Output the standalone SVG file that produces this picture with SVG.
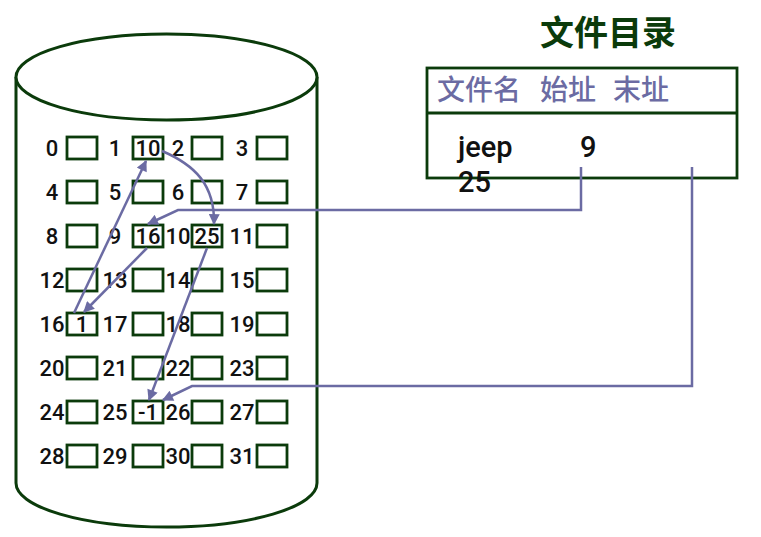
<svg xmlns="http://www.w3.org/2000/svg" width="761" height="537" viewBox="0 0 761 537">
<defs>
<style>
.outline{fill:#fff;stroke:#0b3b0b;stroke-width:3}
.box{fill:#fff;stroke:#0b3b0b;stroke-width:2.8}
.lbl{font-family:Roboto,"Liberation Sans",sans-serif;font-size:22px;font-weight:500;fill:#111;text-anchor:middle}
.val{font-family:Roboto,"Liberation Sans",sans-serif;font-size:22px;font-weight:500;fill:#111;text-anchor:middle}
.conn{fill:none;stroke:#6b6ba3;stroke-width:2.5}
.title{font-family:"Noto Sans CJK SC","Noto Sans",sans-serif;font-size:34px;font-weight:bold;fill:#0b3b0b}
.hdr{font-family:"Noto Sans CJK SC","Noto Sans",sans-serif;font-size:28px;font-weight:500;fill:#6b6ba3}
.rec{font-family:Roboto,"Liberation Sans",sans-serif;font-size:29px;font-weight:500;fill:#111}
</style>
<marker id="ah" viewBox="0 0 10 10" refX="9" refY="5" markerWidth="12" markerHeight="11" markerUnits="userSpaceOnUse" orient="auto">
<path d="M0,0 L10,5 L0,10 z" fill="#6b6ba3"/>
</marker>
</defs>
<g id="disk">
<path class="outline" d="M16,77 L16,483 A150.5,44 0 0 0 317,483 L317,77"/>
<ellipse class="outline" cx="166.5" cy="77" rx="150.5" ry="43"/>
</g>
<g id="cells">
<g id="c0"><text class="lbl" x="52" y="156">0</text><rect class="box" x="67" y="137" width="30" height="22"/></g>
<g id="c1"><text class="lbl" x="115" y="156">1</text><rect class="box" x="133" y="137" width="30" height="22"/><text class="val" x="148" y="156">10</text></g>
<g id="c2"><text class="lbl" x="178" y="156">2</text><rect class="box" x="192" y="137" width="30" height="22"/></g>
<g id="c3"><text class="lbl" x="242" y="156">3</text><rect class="box" x="257" y="137" width="30" height="22"/></g>
<g id="c4"><text class="lbl" x="52" y="200">4</text><rect class="box" x="67" y="181" width="30" height="22"/></g>
<g id="c5"><text class="lbl" x="115" y="200">5</text><rect class="box" x="133" y="181" width="30" height="22"/></g>
<g id="c6"><text class="lbl" x="178" y="200">6</text><rect class="box" x="192" y="181" width="30" height="22"/></g>
<g id="c7"><text class="lbl" x="242" y="200">7</text><rect class="box" x="257" y="181" width="30" height="22"/></g>
<g id="c8"><text class="lbl" x="52" y="244">8</text><rect class="box" x="67" y="225" width="30" height="22"/></g>
<g id="c9"><text class="lbl" x="115" y="244">9</text><rect class="box" x="133" y="225" width="30" height="22"/><text class="val" x="148" y="244">16</text></g>
<g id="c10"><text class="lbl" x="178" y="244">10</text><rect class="box" x="192" y="225" width="30" height="22"/><text class="val" x="207" y="244">25</text></g>
<g id="c11"><text class="lbl" x="242" y="244">11</text><rect class="box" x="257" y="225" width="30" height="22"/></g>
<g id="c12"><text class="lbl" x="52" y="288">12</text><rect class="box" x="67" y="269" width="30" height="22"/></g>
<g id="c13"><text class="lbl" x="115" y="288">13</text><rect class="box" x="133" y="269" width="30" height="22"/></g>
<g id="c14"><text class="lbl" x="178" y="288">14</text><rect class="box" x="192" y="269" width="30" height="22"/></g>
<g id="c15"><text class="lbl" x="242" y="288">15</text><rect class="box" x="257" y="269" width="30" height="22"/></g>
<g id="c16"><text class="lbl" x="52" y="332">16</text><rect class="box" x="67" y="313" width="30" height="22"/><text class="val" x="82" y="332">1</text></g>
<g id="c17"><text class="lbl" x="115" y="332">17</text><rect class="box" x="133" y="313" width="30" height="22"/></g>
<g id="c18"><text class="lbl" x="178" y="332">18</text><rect class="box" x="192" y="313" width="30" height="22"/></g>
<g id="c19"><text class="lbl" x="242" y="332">19</text><rect class="box" x="257" y="313" width="30" height="22"/></g>
<g id="c20"><text class="lbl" x="52" y="376">20</text><rect class="box" x="67" y="357" width="30" height="22"/></g>
<g id="c21"><text class="lbl" x="115" y="376">21</text><rect class="box" x="133" y="357" width="30" height="22"/></g>
<g id="c22"><text class="lbl" x="178" y="376">22</text><rect class="box" x="192" y="357" width="30" height="22"/></g>
<g id="c23"><text class="lbl" x="242" y="376">23</text><rect class="box" x="257" y="357" width="30" height="22"/></g>
<g id="c24"><text class="lbl" x="52" y="420">24</text><rect class="box" x="67" y="401" width="30" height="22"/></g>
<g id="c25"><text class="lbl" x="115" y="420">25</text><rect class="box" x="133" y="401" width="30" height="22"/><text class="val" x="148" y="420">-1</text></g>
<g id="c26"><text class="lbl" x="178" y="420">26</text><rect class="box" x="192" y="401" width="30" height="22"/></g>
<g id="c27"><text class="lbl" x="242" y="420">27</text><rect class="box" x="257" y="401" width="30" height="22"/></g>
<g id="c28"><text class="lbl" x="52" y="464">28</text><rect class="box" x="67" y="445" width="30" height="22"/></g>
<g id="c29"><text class="lbl" x="115" y="464">29</text><rect class="box" x="133" y="445" width="30" height="22"/></g>
<g id="c30"><text class="lbl" x="178" y="464">30</text><rect class="box" x="192" y="445" width="30" height="22"/></g>
<g id="c31"><text class="lbl" x="242" y="464">31</text><rect class="box" x="257" y="445" width="30" height="22"/></g>
</g>
<g id="directory">
<text class="title" x="608" y="45" text-anchor="middle">文件目录</text>
<rect class="box" x="427" y="68" width="310" height="110"/>
<line class="box" x1="427" y1="113" x2="737" y2="113"/>
<text class="hdr" x="437" y="100">文件名</text>
<text class="hdr" x="540" y="100">始址</text>
<text class="hdr" x="613" y="100">末址</text>
<text class="rec" x="458" y="157">jeep</text>
<text class="rec" x="580" y="157">9</text>
<text class="rec" x="458" y="192">25</text>
</g>
<g id="connectors">
<path class="conn" d="M74,313 L146,161" marker-end="url(#ah)"/>
<path class="conn" d="M162,151 C195,165 215,185 214,224" marker-end="url(#ah)"/>
<path class="conn" d="M581,167 V210 H178 L148,224" marker-end="url(#ah)"/>
<path class="conn" d="M147,248 L84,312" marker-end="url(#ah)"/>
<path class="conn" d="M207,248 L149,400" marker-end="url(#ah)"/>
<path class="conn" d="M692,167 V386 H192 L163,400" marker-end="url(#ah)"/>
</g>
</svg>
